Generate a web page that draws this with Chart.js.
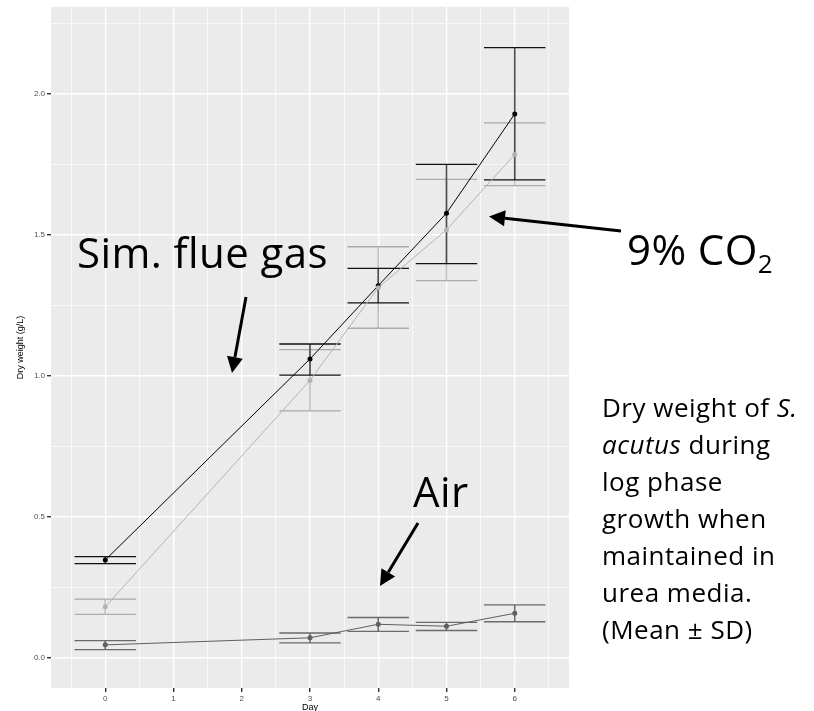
<!DOCTYPE html>
<html>
<head>
<meta charset="utf-8">
<script src="https://cdn.jsdelivr.net/npm/chart.js@4.4.1/dist/chart.umd.min.js"></script>
<style>
  body { margin: 0; background: #fff; }
  #wrap { position: relative; width: 814px; height: 711px; overflow: hidden; }
  #chart { position: absolute; left: 0; top: 0; }
  .note { position: absolute; font-family: "Open Sans", Lato, sans-serif; color: #000; line-height: 1.2; white-space: nowrap; }
  .big { font-size: 42px; letter-spacing: 0.4px; }
  #caption { left: 602px; top: 389px; font-size: 26px; line-height: 37px; letter-spacing: 0.5px; }
  sub { font-size: 0.62em; vertical-align: -0.3em; }
</style>
</head>
<body>
<div id="wrap">
  <canvas id="chart" width="814" height="711"></canvas>
  <div class="note big" style="left:77px; top:227px;">Sim. flue gas</div>
  <div class="note big" style="left:627px; top:224px;">9% CO<sub>2</sub></div>
  <div class="note big" style="left:413px; top:466px;">Air</div>
  <div class="note" id="caption">Dry weight of <i>S.</i><br><i>acutus</i> during<br>log phase<br>growth when<br>maintained in<br>urea media.<br>(Mean &plusmn; SD)</div>
</div>
<script>
// days sampled
const days = [0, 3, 4, 5, 6]

// simulated flue gas (black)
const flueMean = [0.346, 1.059, 1.319, 1.576, 1.928]
const flueLow = [0.333, 1.002, 1.258, 1.397, 1.694]
const flueHigh = [0.358, 1.112, 1.380, 1.749, 2.163]

// 9% CO2 (light grey)
const co2Mean = [0.180, 0.983, 1.312, 1.517, 1.784]
const co2Low = [0.153, 0.875, 1.168, 1.337, 1.674]
const co2High = [0.207, 1.092, 1.457, 1.696, 1.896]

// air (dark grey)
const airMean = [0.045, 0.070, 0.118, 0.111, 0.157]
const airLow = [0.028, 0.052, 0.093, 0.096, 0.127]
const airHigh = [0.060, 0.087, 0.142, 0.125, 0.187]

// grid positions and labelled ticks
const xGrid = [-0.5, 0, 0.5, 1, 1.5, 2, 2.5, 3, 3.5, 4, 4.5, 5, 5.5, 6, 6.5]
const xLabels = [0, 1, 2, 3, 4, 5, 6]
const yGrid = [0, 0.25, 0.5, 0.75, 1, 1.25, 1.5, 1.75, 2, 2.25]
const yLabels = [0, 0.5, 1, 1.5, 2]

const toPoints = (ys) => days.map((d, i) => ({x: d, y: ys[i]}))

const series = [
  {label: '9% CO2', mean: co2Mean, low: co2Low, high: co2High, color: '#b4b4b4', stem: '#c0c0c0', cap: '#ababab'},
  {label: 'Sim. flue gas', mean: flueMean, low: flueLow, high: flueHigh, color: '#000000', stem: '#4d4d4d', cap: '#111111'},
  {label: 'Air', mean: airMean, low: airLow, high: airHigh, color: '#5f5f5f', stem: '#6e6e6e', cap: '#6a6a6a'},
]

const panelBg = {
  id: 'panelBg',
  beforeDraw(chart){
    const {ctx, chartArea: a} = chart
    ctx.save()
    ctx.fillStyle = '#ebebeb'
    ctx.fillRect(a.left, a.top, a.right - a.left, a.bottom - a.top)
    ctx.restore()
  }
}

// error bars, width 0.9 day
const errorBars = {
  id: 'errorBars',
  beforeDatasetsDraw(chart){
    const {ctx, scales: {x, y}} = chart
    ctx.save()
    series.forEach(s => {
      days.forEach((d, i) => {
        const px = x.getPixelForValue(d)
        const x0 = x.getPixelForValue(d - 0.45)
        const x1 = x.getPixelForValue(d + 0.45)
        const yl = y.getPixelForValue(s.low[i])
        const yh = y.getPixelForValue(s.high[i])
        ctx.strokeStyle = s.stem
        ctx.lineWidth = 1.6
        ctx.beginPath()
        ctx.moveTo(px, yl)
        ctx.lineTo(px, yh)
        ctx.stroke()
        ctx.strokeStyle = s.cap
        ctx.lineWidth = 1.3
        ctx.beginPath()
        ctx.moveTo(x0, yl); ctx.lineTo(x1, yl)
        ctx.moveTo(x0, yh); ctx.lineTo(x1, yh)
        ctx.stroke()
      })
    })
    ctx.restore()
  }
}

// annotation arrows
const arrows = [
  {from: [246, 297], to: [232, 373]},
  {from: [621, 231], to: [489, 216.5]},
  {from: [418, 523], to: [380, 586]},
]

const arrowLayer = {
  id: 'arrowLayer',
  afterDraw(chart){
    const ctx = chart.ctx
    ctx.save()
    ctx.strokeStyle = '#000'
    ctx.fillStyle = '#000'
    arrows.forEach(a => {
      const [fx, fy] = a.from
      const [tx, ty] = a.to
      const ang = Math.atan2(ty - fy, tx - fx)
      const headLen = 16, headW = 8
      const bx = tx - headLen * Math.cos(ang)
      const by = ty - headLen * Math.sin(ang)
      ctx.lineWidth = 3
      ctx.beginPath()
      ctx.moveTo(fx, fy)
      ctx.lineTo(bx, by)
      ctx.stroke()
      ctx.beginPath()
      ctx.moveTo(tx, ty)
      ctx.lineTo(bx + headW * Math.sin(ang), by - headW * Math.cos(ang))
      ctx.lineTo(bx - headW * Math.sin(ang), by + headW * Math.cos(ang))
      ctx.closePath()
      ctx.fill()
    })
    ctx.restore()
  }
}

const isLabel = (v, list) => list.some(l => Math.abs(l - v) < 1e-6)

new Chart('chart', {
  type: 'line',
  data: {
    datasets: series.map(s => ({
      label: s.label,
      data: toPoints(s.mean),
      borderColor: s.color,
      backgroundColor: s.color,
      borderWidth: 1,
      pointRadius: 2.5,
      pointBorderWidth: 0,
      tension: 0,
    }))
  },
  options: {
    responsive: false,
    animation: false,
    devicePixelRatio: 1,
    layout: {padding: {top: 6, right: 245, bottom: 0, left: 0}},
    plugins: {legend: {display: false}, tooltip: {enabled: false}},
    scales: {
      x: {
        type: 'linear',
        min: -0.795,
        max: 6.795,
        afterBuildTicks: (scale) => { scale.ticks = xGrid.map(v => ({value: v})) },
        afterFit: (scale) => { scale.height = 23 },
        border: {display: false},
        grid: {
          color: (c) => isLabel(c.tick.value, xLabels) ? '#ffffff' : '#f8f8f8',
          lineWidth: (c) => isLabel(c.tick.value, xLabels) ? 1.4 : 1,
          tickColor: (c) => isLabel(c.tick.value, xLabels) ? '#333333' : 'rgba(0,0,0,0)',
          tickLength: 4,
        },
        ticks: {
          autoSkip: false,
          maxRotation: 0,
          padding: 2,
          color: '#4d4d4d',
          font: {family: 'Liberation Sans', size: 8},
          callback: (v) => isLabel(v, xLabels) ? String(v) : '',
        },
        title: {
          display: true,
          text: 'Day',
          color: '#000',
          font: {family: 'Liberation Sans', size: 9},
          padding: {top: 0, bottom: -2},
        }
      },
      y: {
        min: -0.108,
        max: 2.308,
        afterBuildTicks: (scale) => { scale.ticks = yGrid.map(v => ({value: v})) },
        afterFit: (scale) => { scale.width = 51 },
        border: {display: false},
        grid: {
          color: (c) => isLabel(c.tick.value, yLabels) ? '#ffffff' : '#f8f8f8',
          lineWidth: (c) => isLabel(c.tick.value, yLabels) ? 1.4 : 1,
          tickColor: (c) => isLabel(c.tick.value, yLabels) ? '#333333' : 'rgba(0,0,0,0)',
          tickLength: 4,
        },
        ticks: {
          autoSkip: false,
          padding: 2,
          color: '#4d4d4d',
          font: {family: 'Liberation Sans', size: 8},
          callback: (v) => isLabel(v, yLabels) ? v.toFixed(1) : '',
        },
        title: {
          display: true,
          text: 'Dry weight (g/L)',
          color: '#000',
          font: {family: 'Liberation Sans', size: 9},
          padding: {top: 15, bottom: 0},
        }
      }
    }
  },
  plugins: [panelBg, errorBars, arrowLayer]
})
</script>
</body>
</html>
